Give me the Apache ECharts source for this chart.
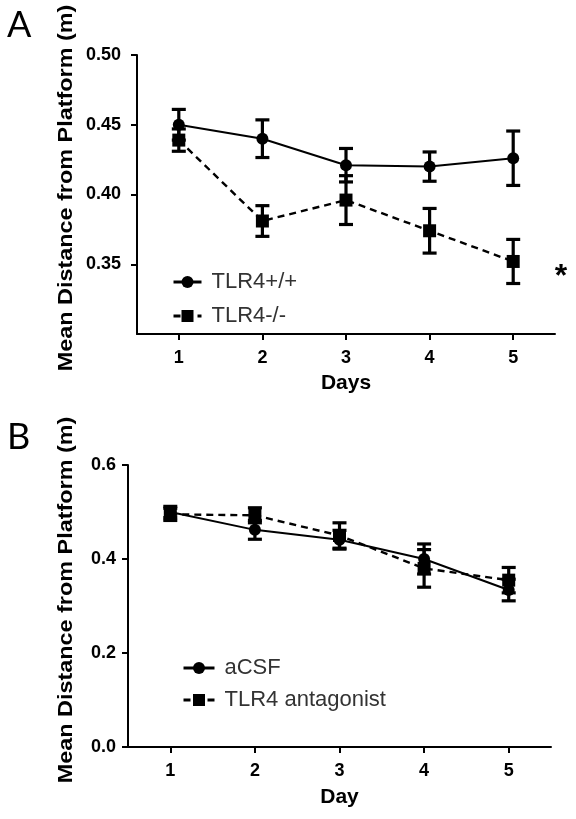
<!DOCTYPE html>
<html><head><meta charset="utf-8">
<script src="https://cdn.jsdelivr.net/npm/echarts@6/dist/echarts.min.js"></script>
<style>html,body{margin:0;padding:0;background:#fff}#c{width:576px;height:819px}</style>
</head><body><div id="c"></div>
<script>
const days = [1, 2, 3, 4, 5];
const xTicks = [1, 2, 3, 4, 5];
const yTicksA = [0.35, 0.40, 0.45, 0.50];
const yTicksB = [0.0, 0.2, 0.4, 0.6];
const seriesNamesA = ['TLR4+/+', 'TLR4-/-'];
const seriesNamesB = ['aCSF', 'TLR4 antagonist'];
const xNameA = 'Days';
const xNameB = 'Day';
const yName = 'Mean Distance from Platform (m)';
const wtMean = [0.450, 0.440, 0.421, 0.420, 0.426];
const wtSem = [0.011, 0.0135, 0.012, 0.0105, 0.0195];
const koMean = [0.439, 0.381, 0.396, 0.374, 0.352];
const koSem = [0.008, 0.011, 0.0175, 0.016, 0.0158];
const acsfMean = [0.500, 0.462, 0.441, 0.400, 0.334];
const acsfSem = [0.012, 0.020, 0.020, 0.032, 0.023];
const antMean = [0.495, 0.493, 0.450, 0.380, 0.355];
const antSem = [0.013, 0.016, 0.027, 0.040, 0.027];

const FONT = '"Liberation Sans", Arial, sans-serif';
const pts = (m) => days.map((d, i) => [d, m[i]]);
const errs = (m, s) => days.map((d, i) => [d, m[i] - s[i], m[i] + s[i]]);

function errRender(params, api) {
  const x = api.value(0), lo = api.value(1), hi = api.value(2);
  const p1 = api.coord([x, hi]), p2 = api.coord([x, lo]);
  const hw = 7;
  const style = { stroke: '#000', lineWidth: 3.2 };
  return { type: 'group', children: [
    { type: 'line', shape: { x1: p1[0], y1: p1[1], x2: p2[0], y2: p2[1] }, style },
    { type: 'line', shape: { x1: p1[0] - hw, y1: p1[1], x2: p1[0] + hw, y2: p1[1] }, style },
    { type: 'line', shape: { x1: p2[0] - hw, y1: p2[1], x2: p2[0] + hw, y2: p2[1] }, style }
  ]};
}

const axisLineStyle = { show: true, lineStyle: { color: '#000', width: 2 } };
const tickStyle = (vals) => ({ show: true, length: 6, lineStyle: { color: '#000', width: 2 }, customValues: vals });
const labelStyle = (vals, margin, fmt) => ({ customValues: vals, margin: margin, color: '#000', fontFamily: FONT, fontWeight: 'bold', fontSize: 18, formatter: fmt });

function xAxis(grid, name, gap, margin) {
  return {
    type: 'value', gridIndex: grid, min: 0.5, max: 5.5,
    name: name, nameLocation: 'middle', nameGap: gap,
    nameTextStyle: { color: '#000', fontFamily: FONT, fontWeight: 'bold', fontSize: 21 },
    axisLine: axisLineStyle, axisTick: tickStyle(xTicks),
    axisLabel: labelStyle(xTicks, margin, (v) => String(v)),
    splitLine: { show: false }
  };
}
function yAxis(grid, min, max, ticks, margin, digits) {
  return {
    type: 'value', gridIndex: grid, min: min, max: max,
    axisLine: axisLineStyle, axisTick: tickStyle(ticks),
    axisLabel: labelStyle(ticks, margin, (v) => v.toFixed(digits)),
    splitLine: { show: false }
  };
}

function lineSeries(name, data, xi, yi, symbol, size, dashed) {
  return {
    type: 'line', name: name, data: data, xAxisIndex: xi, yAxisIndex: yi,
    symbol: symbol, symbolSize: size, showSymbol: true, z: 3,
    itemStyle: { color: '#000' },
    lineStyle: { color: '#000', width: dashed ? 2.4 : 2, type: dashed ? [7, 5] : 'solid' },
    animation: false
  };
}
function errSeries(data, xi, yi) {
  return { type: 'custom', data: data, xAxisIndex: xi, yAxisIndex: yi, renderItem: errRender,
    encode: { x: 0, y: [1, 2] }, z: 2, animation: false, silent: true };
}

const legendText = { color: '#333', fontFamily: FONT, fontSize: 22, lineHeight: 22, padding: [0, 0, 0, 5] };
const yNameText = (y) => ({ type: 'text', x: 66, y: y, rotation: Math.PI / 2, scaleX: 1.17,
  style: { text: yName, font: 'bold 20px "Liberation Sans", Arial, sans-serif', fill: '#000', textAlign: 'center', textVerticalAlign: 'middle' } });

const chart = echarts.init(document.getElementById('c'), null, { renderer: 'canvas' });
chart.setOption({
  backgroundColor: '#fff',
  animation: false,
  grid: [
    { left: 137, top: 55, width: 418, height: 279 },
    { left: 128, top: 465, width: 423, height: 282 }
  ],
  xAxis: [xAxis(0, xNameA, 39, 15), xAxis(1, xNameB, 40, 15)],
  yAxis: [yAxis(0, 0.30, 0.50, yTicksA, 16, 2), yAxis(1, 0, 0.6, yTicksB, 12, 1)],
  legend: [
    { data: seriesNamesA, orient: 'vertical', left: 167, top: 266, itemWidth: 28, itemHeight: 15, itemGap: 12, textStyle: legendText, lineStyle: { width: 3 } },
    { data: seriesNamesB, orient: 'vertical', left: 177, top: 652, itemWidth: 31, itemHeight: 15, itemGap: 10, textStyle: legendText, lineStyle: { width: 3 } }
  ],
  graphic: [
    { type: 'text', x: 7, y: 25, style: { text: 'A', font: '36px Lato, "Liberation Sans", sans-serif', fill: '#000', textVerticalAlign: 'middle' } },
    { type: 'text', x: 7, y: 437, style: { text: 'B', font: '36px Lato, "Liberation Sans", sans-serif', fill: '#000', textVerticalAlign: 'middle' } },
    { type: 'text', x: 561, y: 277, style: { text: '*', font: 'bold 32px "Liberation Sans", sans-serif', fill: '#000', textAlign: 'center', textVerticalAlign: 'middle' } },
    yNameText(188),
    yNameText(600)
  ],
  series: [
    errSeries(errs(wtMean, wtSem), 0, 0),
    errSeries(errs(koMean, koSem), 0, 0),
    lineSeries(seriesNamesA[0], pts(wtMean), 0, 0, 'circle', 12, false),
    lineSeries(seriesNamesA[1], pts(koMean), 0, 0, 'rect', 13, true),
    errSeries(errs(acsfMean, acsfSem), 1, 1),
    errSeries(errs(antMean, antSem), 1, 1),
    lineSeries(seriesNamesB[0], pts(acsfMean), 1, 1, 'circle', 12, false),
    lineSeries(seriesNamesB[1], pts(antMean), 1, 1, 'rect', 13, true)
  ]
});
</script></body></html>
